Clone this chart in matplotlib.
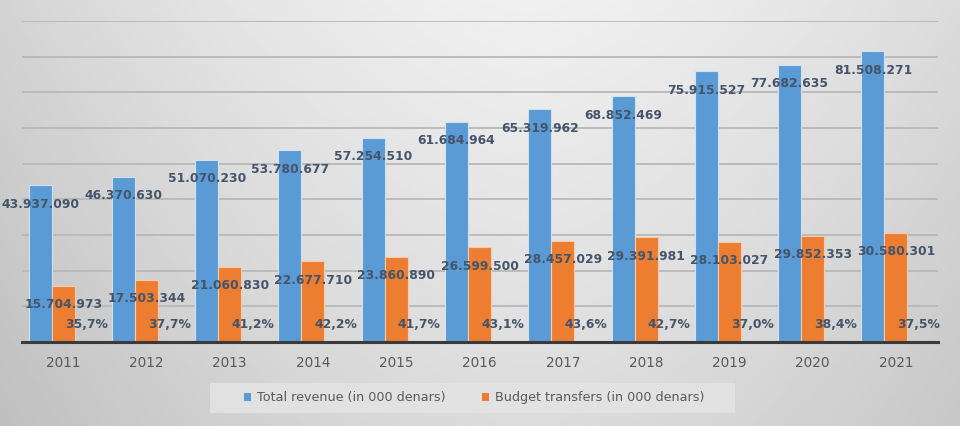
import numpy as np
import matplotlib
matplotlib.use("Agg")
import matplotlib.pyplot as plt
from matplotlib.patches import Rectangle

years = ['2011', '2012', '2013', '2014', '2015', '2016', '2017', '2018', '2019', '2020', '2021']
total_revenue = [43937090, 46370630, 51070230, 53780677, 57254510, 61684964,
                 65319962, 68852469, 75915527, 77682635, 81508271]
budget_transfers = [15704973, 17503344, 21060830, 22677710, 23860890, 26599500,
                    28457029, 29391981, 28103027, 29852353, 30580301]
share_pct = [35.7, 37.7, 41.2, 42.2, 41.7, 43.1, 43.6, 42.7, 37.0, 38.4, 37.5]

blue = '#5b9bd5'
orange = '#ed7d31'
label_col = '#44546a'

fig = plt.figure(figsize=(9.6, 4.26), dpi=100)

# gray background, lighter toward the top middle
bg = fig.add_axes([0, 0, 1, 1], zorder=-10)
gx, gy = np.meshgrid(np.linspace(0, 1, 400), np.linspace(0, 1, 200))
shade = 0.94 - 0.11 * (np.abs(gx - 0.55) / 0.55) ** 1.6 - 0.08 * gy
bg.imshow(shade, cmap='gray', vmin=0, vmax=1, aspect='auto', extent=[0, 1, 1, 0])
bg.set_xlim(0, 1)
bg.set_ylim(1, 0)
bg.axis('off')

ax = fig.add_axes([21.5 / 960, 84 / 426, 916 / 960, 321 / 426])
ax.set_facecolor('none')

x = np.arange(len(years))
w = 0.276
ax.bar(x - w, total_revenue, w, color=blue, edgecolor='#cfe1f2', linewidth=0.8,
       label='Total revenue (in 000 denars)', zorder=3)
ax.bar(x, budget_transfers, w, color=orange, edgecolor='#f7cbab', linewidth=0.8,
       label='Budget transfers (in 000 denars)', zorder=3)

def fmt(v):
    return '{:,}'.format(v).replace(',', '.')

for i in range(len(years)):
    ax.annotate(fmt(total_revenue[i]), (x[i] - w, total_revenue[i]), xytext=(0, -19),
                textcoords='offset pixels', ha='center', va='center',
                fontsize=8.9, fontweight='bold', color=label_col, zorder=5)
    ax.annotate(fmt(budget_transfers[i]), (x[i], budget_transfers[i]), xytext=(0, -19),
                textcoords='offset pixels', ha='center', va='center',
                fontsize=8.9, fontweight='bold', color=label_col, zorder=5)
    ax.annotate(('%.1f%%' % share_pct[i]).replace('.', ','), (x[i] + w, 0), xytext=(0, 17),
                textcoords='offset pixels', ha='center', va='center',
                fontsize=8.9, fontweight='bold', color=label_col, zorder=5)

ax.set_xlim(-0.5, len(years) - 0.5)
ax.set_ylim(0, 90e6)
ax.set_yticks(np.arange(0, 90e6 + 1, 10e6))
ax.yaxis.grid(True, color='#b8b8b8', linewidth=1.3, zorder=0)
ax.set_axisbelow(True)
ax.tick_params(axis='y', left=False, labelleft=False)
ax.set_xticks(x)
ax.set_xticklabels(years, fontsize=9.8, color='#595959')
ax.tick_params(axis='x', length=0, pad=10)
for s in ['top', 'left', 'right']:
    ax.spines[s].set_visible(False)
ax.spines['bottom'].set_color('#3a3a3a')
ax.spines['bottom'].set_linewidth(2.2)
ax.spines['bottom'].set_zorder(4)

# legend box
fig.patches.append(Rectangle((210 / 960, 13 / 426), 525 / 960, 30 / 426,
                             transform=fig.transFigure, facecolor='#e4e4e4',
                             edgecolor='none', alpha=0.85, zorder=-5))
leg = ax.legend(loc='center', bbox_to_anchor=(474 / 960, 28 / 426), bbox_transform=fig.transFigure,
                ncol=2, frameon=False, fontsize=9.2, handlelength=0.55, handleheight=0.55,
                handletextpad=0.45, columnspacing=2.9)
for t in leg.get_texts():
    t.set_color('#595959')
for h in leg.legend_handles:
    h.set_edgecolor('none')

fig.savefig('out.png', dpi=100)
